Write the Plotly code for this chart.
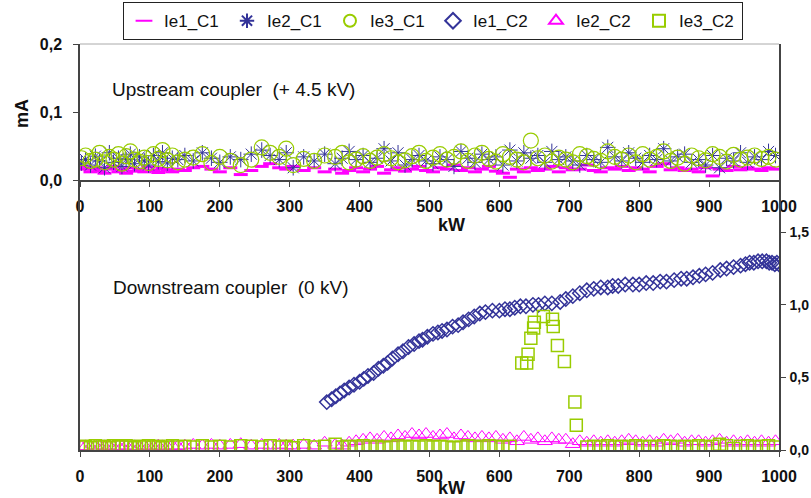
import plotly.graph_objects as go

# ---------------- data ----------------
kw = [2, 8, 15, 22, 28, 35, 42, 48, 55, 60,
      66, 72, 78, 85, 92, 98, 105, 112, 118, 125,
      132, 140, 150, 162, 175, 188, 200, 215, 230, 245,
      260, 272, 285, 295, 305, 320, 335, 350, 365, 375,
      385, 395, 405, 415, 425, 435, 445, 455, 465, 475,
      485, 495, 505, 515, 525, 535, 545, 555, 565, 575,
      585, 595, 605, 615, 625, 635, 645, 655, 665, 675,
      685, 695, 705, 715, 725, 735, 745, 755, 765, 775,
      785, 795, 805, 815, 825, 835, 845, 855, 865, 875,
      885, 895, 905, 915, 925, 935, 945, 955, 965, 975,
      985, 995]

ie1_c1 = [0.020, 0.016, 0.012, 0.018, 0.014, 0.010, 0.016, 0.020, 0.012, 0.015,
          0.010, 0.018, 0.013, 0.016, 0.012, 0.019, 0.014, 0.011, 0.017, 0.015,
          0.012, 0.016, 0.014, 0.018, 0.020, 0.016, 0.012, 0.018, 0.008, 0.014,
          0.020, 0.024, 0.018, 0.016, 0.020, 0.014, 0.018, 0.012, 0.016, 0.010,
          0.014, 0.018, 0.012, 0.016, 0.020, 0.010, 0.015, 0.018, 0.013, 0.016,
          0.020, 0.014, 0.012, 0.018, 0.016, 0.022, 0.014, 0.018, 0.012, 0.016,
          0.020, 0.013, 0.010, 0.004, 0.016, 0.012, 0.018, 0.014, 0.016, 0.020,
          0.012, 0.018, 0.015, 0.016, 0.022, 0.014, 0.012, 0.018, 0.016, 0.020,
          0.014, 0.018, 0.016, 0.012, 0.020, 0.024, 0.015, 0.018, 0.014, 0.016,
          0.012, 0.018, 0.006, 0.016, 0.014, 0.020, 0.015, 0.018, 0.016, 0.014,
          0.018, 0.016]

ie2_c1 = [0.025, 0.030, 0.022, 0.035, 0.028, 0.018, 0.040, 0.026, 0.032, 0.020,
          0.030, 0.038, 0.024, 0.034, 0.028, 0.022, 0.036, 0.027, 0.040, 0.025,
          0.032, 0.030, 0.036, 0.028, 0.040, 0.032, 0.026, 0.034, 0.030, 0.038,
          0.044, 0.036, 0.030, 0.040, 0.018, 0.034, 0.028, 0.038, 0.024, 0.032,
          0.042, 0.030, 0.036, 0.026, 0.032, 0.046, 0.028, 0.040, 0.022, 0.030,
          0.036, 0.028, 0.024, 0.034, 0.030, 0.020, 0.042, 0.032, 0.026, 0.038,
          0.030, 0.034, 0.022, 0.044, 0.028, 0.040, 0.032, 0.036, 0.026, 0.042,
          0.030, 0.034, 0.028, 0.022, 0.036, 0.030, 0.026, 0.048, 0.034, 0.028,
          0.040, 0.032, 0.026, 0.036, 0.030, 0.046, 0.028, 0.034, 0.038, 0.026,
          0.030, 0.022, 0.036, 0.018, 0.032, 0.028, 0.040, 0.026, 0.034, 0.030,
          0.042, 0.036]

ie3_c1 = [0.032, 0.036, 0.028, 0.030, 0.040, 0.026, 0.034, 0.030, 0.038, 0.024,
          0.035, 0.042, 0.030, 0.027, 0.033, 0.025, 0.038, 0.031, 0.044, 0.029,
          0.036, 0.026, 0.030, 0.033, 0.038, 0.025, 0.034, 0.028, 0.022, 0.030,
          0.048, 0.040, 0.034, 0.046, 0.022, 0.031, 0.028, 0.036, 0.034, 0.040,
          0.026, 0.030, 0.035, 0.028, 0.033, 0.038, 0.032, 0.026, 0.029, 0.035,
          0.040, 0.028, 0.033, 0.038, 0.030, 0.034, 0.042, 0.028, 0.036, 0.040,
          0.031, 0.027, 0.038, 0.034, 0.030, 0.026, 0.058, 0.032, 0.036, 0.027,
          0.033, 0.030, 0.026, 0.038, 0.035, 0.031, 0.028, 0.042, 0.034, 0.030,
          0.036, 0.026, 0.038, 0.030, 0.034, 0.042, 0.028, 0.033, 0.024, 0.036,
          0.032, 0.029, 0.038, 0.034, 0.027, 0.037, 0.030, 0.033, 0.036, 0.031,
          0.034, 0.030]

kw_ie1_c2 = [353, 360, 366, 372, 378, 385, 392, 400, 406, 412,
             420, 427, 434, 440, 447, 455, 462, 470, 478, 485,
             490, 497, 505, 512, 518, 525, 533, 541, 548, 556,
             564, 572, 580, 590, 600, 608, 615, 622, 630, 638,
             648, 656, 665, 675, 687, 695, 705, 715, 725, 735,
             745, 755, 762, 770, 780, 791, 800, 810, 820, 830,
             839, 850, 860, 868, 877, 886, 895, 905, 916, 925,
             935, 945, 952, 958, 964, 970, 976, 982, 986, 990,
             994, 997, 1000]
ie1_c2 = [0.33, 0.35, 0.37, 0.39, 0.41, 0.43, 0.45, 0.47, 0.49, 0.51,
          0.53, 0.56, 0.58, 0.60, 0.63, 0.66, 0.68, 0.71, 0.73, 0.75,
          0.76, 0.78, 0.80, 0.81, 0.82, 0.83, 0.85, 0.86, 0.88, 0.90,
          0.92, 0.94, 0.95, 0.96, 0.96, 0.97, 0.97, 0.98, 0.99, 0.99,
          1.00, 1.00, 1.01, 1.01, 1.02, 1.04, 1.06, 1.08, 1.10, 1.11,
          1.12, 1.12, 1.13, 1.13, 1.14, 1.14, 1.14, 1.15, 1.15, 1.16,
          1.16, 1.17, 1.18, 1.18, 1.19, 1.20, 1.21, 1.22, 1.24, 1.25,
          1.26, 1.27, 1.28, 1.29, 1.29, 1.30, 1.30, 1.30, 1.29, 1.29,
          1.28, 1.29, 1.28]

ie2_c2 = [0.020, 0.025, 0.020, 0.030, 0.020, 0.025, 0.030, 0.020, 0.025, 0.020,
          0.030, 0.020, 0.025, 0.020, 0.030, 0.025, 0.020, 0.030, 0.025, 0.020,
          0.030, 0.025, 0.030, 0.035, 0.030, 0.035, 0.030, 0.035, 0.040, 0.030,
          0.035, 0.030, 0.035, 0.030, 0.030, 0.035, 0.030, 0.050, 0.035, 0.030,
          0.050, 0.060, 0.070, 0.080, 0.070, 0.090, 0.080, 0.100, 0.090, 0.110,
          0.100, 0.110, 0.090, 0.100, 0.110, 0.080, 0.100, 0.090, 0.080, 0.090,
          0.080, 0.090, 0.070, 0.080, 0.060, 0.090, 0.070, 0.080, 0.060, 0.080,
          0.070, 0.070, 0.040, 0.060, 0.050, 0.060, 0.050, 0.060, 0.050, 0.060,
          0.070, 0.060, 0.050, 0.060, 0.050, 0.070, 0.060, 0.070, 0.050, 0.060,
          0.060, 0.050, 0.060, 0.070, 0.050, 0.060, 0.050, 0.060, 0.050, 0.060,
          0.050, 0.060]

kw_ie3_c2 = [2, 8, 15, 22, 28, 35, 42, 48, 55, 60,
             66, 72, 78, 85, 92, 98, 105, 112, 118, 125,
             132, 140, 150, 162, 175, 188, 200, 215, 230, 245,
             260, 272, 285, 295, 305, 320, 335, 350, 365, 375,
             385, 395, 405, 415, 425, 435, 445, 455, 465, 475,
             485, 495, 505, 515, 525, 535, 545, 555, 565, 575,
             585, 595, 605, 615,
             632, 639, 641, 645, 649, 650, 663, 676, 677, 683, 693, 708, 710,
             725, 735, 745, 755, 765, 775, 785, 795, 805, 815,
             825, 835, 845, 855, 865, 875, 885, 895, 905, 915,
             925, 935, 945, 955, 965, 975, 985, 995]
ie3_c2 = [0.020, 0.025, 0.015, 0.030, 0.020, 0.025, 0.015, 0.030, 0.025, 0.020,
          0.030, 0.020, 0.015, 0.025, 0.020, 0.030, 0.020, 0.025, 0.015, 0.020,
          0.030, 0.020, 0.025, 0.020, 0.030, 0.020, 0.025, 0.020, 0.030, 0.025,
          0.020, 0.030, 0.020, 0.025, 0.015, 0.030, 0.020, 0.025, 0.040, 0.020,
          0.025, 0.020, 0.030, 0.020, 0.025, 0.015, 0.020, 0.030, 0.020, 0.025,
          0.020, 0.030, 0.020, 0.025, 0.020, 0.015, 0.020, 0.030, 0.025, 0.020,
          0.030, 0.025, 0.020, 0.025,
          0.60, 0.60, 0.66, 0.77, 0.84, 0.88, 0.92, 0.90, 0.85, 0.72, 0.61, 0.33, 0.17,
          0.020, 0.025, 0.020, 0.030, 0.020, 0.025, 0.020, 0.030, 0.020, 0.025,
          0.020, 0.030, 0.025, 0.020, 0.025, 0.020, 0.030, 0.020, 0.025, 0.040,
          0.030, 0.010, 0.025, 0.030, 0.020, 0.025, 0.030, 0.020]

x_ticks = [0, 100, 200, 300, 400, 500, 600, 700, 800, 900, 1000]
x_ticktext = ["0", "100", "200", "300", "400", "500", "600", "700", "800", "900", "1000"]
y1_ticks = [0, 0.1, 0.2]
y1_ticktext = ["0,0", "0,1", "0,2"]
y2_ticks = [0, 0.5, 1.0, 1.5]
y2_ticktext = ["0,0", "0,5", "1,0", "1,5"]

# ---------------- styles ----------------
MAG = "#FF00FF"
BLUE = "#333399"
GREEN = "#99CC00"
FONT = "Liberation Sans, Arial, sans-serif"
AX = "#444444"

fig = go.Figure()

fig.add_trace(go.Scatter(x=kw, y=ie1_c1, mode="markers", name="Ie1_C1",
                         marker=dict(symbol="line-ew", size=10, color=MAG,
                                     line=dict(color=MAG, width=3)),
                         xaxis="x", yaxis="y"))
fig.add_trace(go.Scatter(x=kw, y=ie2_c1, mode="markers", name="Ie2_C1",
                         marker=dict(symbol="asterisk-open", size=13, color=BLUE,
                                     line=dict(color=BLUE, width=1)),
                         xaxis="x", yaxis="y"))
fig.add_trace(go.Scatter(x=kw, y=ie3_c1, mode="markers", name="Ie3_C1",
                         marker=dict(symbol="circle-open", size=15, color=GREEN,
                                     line=dict(color=GREEN, width=1.2)),
                         xaxis="x", yaxis="y"))
fig.add_trace(go.Scatter(x=kw_ie1_c2, y=ie1_c2, mode="markers", name="Ie1_C2",
                         marker=dict(symbol="diamond-open", size=11, color=BLUE,
                                     line=dict(color=BLUE, width=1.5)),
                         xaxis="x2", yaxis="y2"))
fig.add_trace(go.Scatter(x=kw, y=ie2_c2, mode="markers", name="Ie2_C2",
                         marker=dict(symbol="triangle-up-open", size=13, color=MAG,
                                     line=dict(color=MAG, width=1)),
                         xaxis="x2", yaxis="y2"))
fig.add_trace(go.Scatter(x=kw_ie3_c2, y=ie3_c2, mode="markers", name="Ie3_C2",
                         marker=dict(symbol="square-open", size=12, color=GREEN,
                                     line=dict(color=GREEN, width=1.5)),
                         xaxis="x2", yaxis="y2"))

tickfont = dict(family=FONT, size=16, color="#111111")
rightfont = dict(family=FONT, size=14, color="#111111")
split = (450 - 180) / 406

fig.update_layout(
    width=811, height=498,
    margin=dict(l=80, r=32, t=44, b=48, autoexpand=False),
    paper_bgcolor="white", plot_bgcolor="white",
    font=dict(family=FONT, color="#111111"),
    showlegend=True,
    legend=dict(orientation="h", x=0.505, xanchor="center", y=1.103, yanchor="top",
                bordercolor="#222222", borderwidth=1, bgcolor="white",
                font=dict(family=FONT, size=17, color="#111111"),
                itemsizing="constant", entrywidth=58, entrywidthmode="pixels"),
    xaxis=dict(domain=[0, 1], anchor="y", range=[0, 1000], tickvals=x_ticks,
               ticktext=["<b>%s</b>" % t for t in x_ticktext], tickfont=tickfont,
               ticks="outside", ticklen=5, tickcolor=AX, showline=True, linecolor=AX,
               linewidth=1.5, showgrid=False, zeroline=False, ticklabelstandoff=6,
               automargin=False),
    yaxis=dict(domain=[split, 1], anchor="x", range=[0, 0.2], tickvals=y1_ticks,
               ticktext=["<b>%s</b>" % t for t in y1_ticktext], tickfont=tickfont,
               ticks="outside", ticklen=5, tickcolor=AX, showline=True, linecolor=AX,
               linewidth=1.5, mirror=True, showgrid=False, zeroline=False,
               ticklabelstandoff=8, automargin=False),
    xaxis2=dict(domain=[0, 1], anchor="y2", range=[0, 1000], tickvals=x_ticks,
                ticktext=["<b>%s</b>" % t for t in x_ticktext], tickfont=tickfont,
                ticks="outside", ticklen=5, tickcolor=AX, showline=True, linecolor=AX,
                linewidth=1.5, showgrid=False, zeroline=False, ticklabelstandoff=6,
                automargin=False),
    yaxis2=dict(domain=[0, split], anchor="x2", side="right", range=[0, 1.86],
                tickvals=y2_ticks, ticktext=["<b>%s</b>" % t for t in y2_ticktext],
                tickfont=rightfont, ticks="outside", ticklen=5, tickcolor=AX,
                showline=True, linecolor=AX, linewidth=1.5, mirror=True,
                showgrid=False, zeroline=False, ticklabelstandoff=1, automargin=False),
    shapes=[dict(type="line", xref="x domain", yref="y domain", x0=0, x1=1, y0=1, y1=1,
                 line=dict(color="#AAAAAA", width=1))],
    annotations=[
        dict(text="Upstream coupler  (+ 4.5 kV)", xref="paper", yref="paper",
             x=0.220, y=0.887, xanchor="center", yanchor="middle", showarrow=False,
             font=dict(family=FONT, size=19)),
        dict(text="Downstream coupler  (0 kV)", xref="paper", yref="paper",
             x=0.216, y=0.401, xanchor="center", yanchor="middle", showarrow=False,
             font=dict(family=FONT, size=19)),
        dict(text="<b>kW</b>", xref="paper", yref="paper", x=0.532, y=0.554,
             xanchor="center", yanchor="middle", showarrow=False,
             font=dict(family=FONT, size=18)),
        dict(text="<b>kW</b>", xref="paper", yref="paper", x=0.532, y=-0.0936,
             xanchor="center", yanchor="middle", showarrow=False,
             font=dict(family=FONT, size=18)),
        dict(text="<b>mA</b>", xref="paper", yref="paper", x=-0.083, y=0.830,
             xanchor="center", yanchor="middle", showarrow=False, textangle=-90,
             font=dict(family=FONT, size=18)),
    ],
)

fig.write_html("out.html")
